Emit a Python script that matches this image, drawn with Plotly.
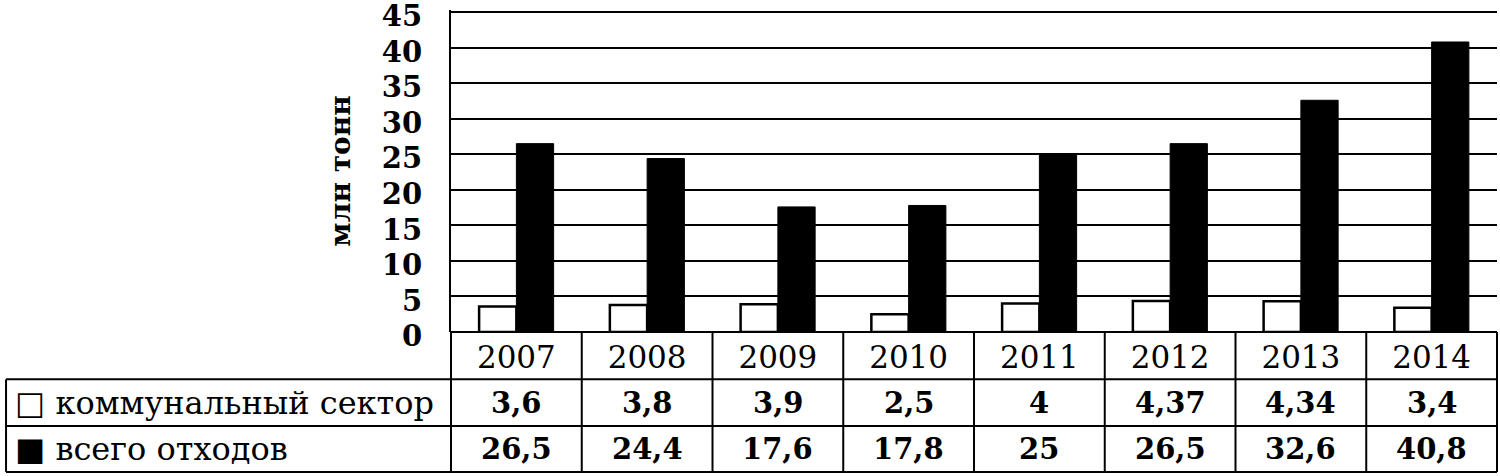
import plotly.graph_objects as go

years = ["2007", "2008", "2009", "2010", "2011", "2012", "2013", "2014"]
communal = [3.6, 3.8, 3.9, 2.5, 4, 4.37, 4.34, 3.4]
total = [26.5, 24.4, 17.6, 17.8, 25, 26.5, 32.6, 40.8]
communal_txt = ["3,6", "3,8", "3,9", "2,5", "4", "4,37", "4,34", "3,4"]
total_txt = ["26,5", "24,4", "17,6", "17,8", "25", "26,5", "32,6", "40,8"]
row_labels = ["\u25a1 коммунальный сектор", "\u25a0 всего отходов"]
y_ticks = list(range(0, 46, 5))

FONT = "DejaVu Serif"

fig = go.Figure()
fig.add_trace(go.Bar(x=years, y=communal, name=row_labels[0],
                     marker=dict(color="white", line=dict(color="black", width=2.5))))
fig.add_trace(go.Bar(x=years, y=total, name=row_labels[1],
                     marker=dict(color="black", line=dict(color="black", width=1))))

# table under the plot, in paper units (plot area 322px tall, 1046px wide)
row_lines = [-0.147, -0.292, -0.4345]
row_mid = [-0.219, -0.363]
left_box = -0.4254

shapes = []
for y in row_lines:
    shapes.append(dict(type="line", xref="paper", yref="paper", x0=left_box, x1=1,
                       y0=y, y1=y, line=dict(color="black", width=2)))
shapes.append(dict(type="line", xref="paper", yref="paper", x0=left_box, x1=left_box,
                   y0=row_lines[0], y1=row_lines[-1], line=dict(color="black", width=2)))
for i in range(len(years) + 1):
    xp = i / len(years)
    shapes.append(dict(type="line", xref="paper", yref="paper", x0=xp, x1=xp,
                       y0=0, y1=row_lines[-1], line=dict(color="black", width=2)))

annotations = []
for row, texts in enumerate([communal_txt, total_txt]):
    annotations.append(dict(xref="paper", yref="paper", x=-0.419, y=row_mid[row],
                            xanchor="left", yanchor="middle", text=row_labels[row],
                            showarrow=False, font=dict(family=FONT, size=32, color="black")))
    for i, t in enumerate(texts):
        annotations.append(dict(xref="x", yref="paper", x=i, y=row_mid[row],
                                xanchor="center", yanchor="middle", text="<b>" + t + "</b>",
                                showarrow=False, font=dict(family=FONT, size=29, color="black")))

fig.update_layout(
    width=1500, height=476,
    margin=dict(l=451, r=3, t=10, b=144),
    paper_bgcolor="white", plot_bgcolor="white",
    barmode="group", bargap=0.43, bargroupgap=0,
    showlegend=False,
    shapes=shapes, annotations=annotations,
    xaxis=dict(type="category", range=[-0.5, 7.5], showgrid=False, showline=False,
               zeroline=False, ticks="", ticklabelstandoff=4, automargin=False,
               tickfont=dict(family=FONT, size=31, color="black")),
    yaxis=dict(range=[0, 45.3], tickvals=y_ticks, showgrid=True, gridcolor="black",
               gridwidth=2, showline=True, linecolor="black", linewidth=2,
               zeroline=True, zerolinecolor="black", zerolinewidth=2, automargin=False,
               ticks="", ticklabelstandoff=21, ticklabelshift=4, ticklabeloverflow="allow",
               tickfont=dict(family=FONT, size=29, color="black", weight="bold"),
               title=dict(text="<b>млн тонн</b>", standoff=23,
                          font=dict(family=FONT, size=28, color="black"))),
)

# drop the default 8px page margin so the figure sits at the top-left corner
fig.write_html("out.html", config={"displayModeBar": False},
               post_script="document.body.style.margin='0';")
